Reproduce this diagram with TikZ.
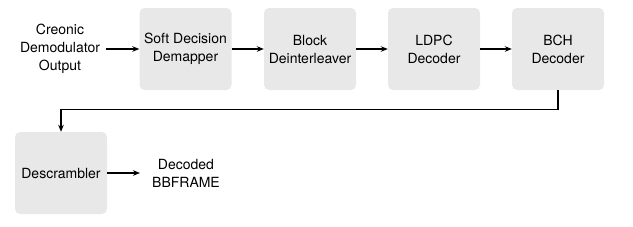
\documentclass[tikz,border=0pt]{standalone}
\usepackage{fontspec}
\setmainfont{TeX Gyre Heros}
\usetikzlibrary{arrows.meta}
\begin{document}
\begin{tikzpicture}[x=1pt,y=-1pt,
  blk/.style={fill=boxgray,rounded corners=5pt,minimum width=92pt,minimum height=82pt,align=center,inner sep=0pt,font=\fontsize{14}{18}\selectfont},
  lbl/.style={align=center,inner sep=0pt,font=\fontsize{14}{18}\selectfont},
  conn/.style={line width=1.4pt,-{Stealth[length=7pt,width=5.5pt]}}]
\definecolor{boxgray}{HTML}{E8E8E8}
\useasboundingbox (0,0) rectangle (633,226);
\node[lbl] (in) at (60,49) {Creonic\\Demodulator\\Output};
\node[blk] (b1) at (185.5,49) {Soft Decision\\Demapper};
\node[blk] (b2) at (310,49) {Block\\Deinterleaver};
\node[blk] (b3) at (434,49) {LDPC\\Decoder};
\node[blk] (b4) at (558,49) {BCH\\Decoder};
\node[blk] (b5) at (61,173) {Descrambler};
\node[lbl] (out) at (186,173) {Decoded\\BBFRAME};
\draw[conn] ([xshift=6pt]in.east) -- (b1.west);
\draw[conn] (b1) -- (b2);
\draw[conn] (b2) -- (b3);
\draw[conn] (b3) -- (b4);
\draw[conn] (b4.south) -- ++(0,19) -| (b5.north);
\draw[conn] (b5) -- ([xshift=-12pt]out.west);
\end{tikzpicture}
\end{document}
